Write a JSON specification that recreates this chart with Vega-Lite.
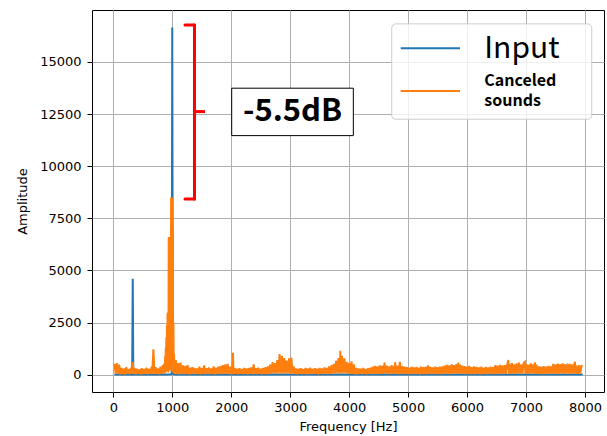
{
  "$schema": "https://vega.github.io/schema/vega-lite/v6.json",
  "autosize": {"type": "none"},
  "padding": {"left": 92, "top": 10, "right": 3, "bottom": 44},
  "width": 512,
  "height": 382,
  "config": {
    "font": "DejaVu Sans",
    "view": {"stroke": "#000000", "strokeWidth": 1},
    "axis": {
      "labelFont": "DejaVu Sans", "labelFontSize": 13, "labelColor": "#000000",
      "titleFont": "DejaVu Sans", "titleFontSize": 13, "titleFontWeight": "normal", "titleColor": "#000000",
      "tickColor": "#000000", "tickSize": 5, "tickWidth": 1, "domain": false,
      "grid": true, "gridColor": "#b0b0b0", "gridWidth": 1
    }
  },
  "datasets": {
    "input": [
      {"f":20,"a":10},{"f":100,"a":5},{"f":200,"a":10},{"f":300,"a":5},{"f":320,"a":10},{"f":330,"a":4600},{"f":340,"a":10},
      {"f":400,"a":5},{"f":500,"a":10},{"f":600,"a":5},{"f":700,"a":10},{"f":800,"a":5},{"f":900,"a":10},{"f":980,"a":20},
      {"f":990,"a":60},{"f":1000,"a":16650},{"f":1010,"a":60},{"f":1020,"a":20},{"f":1100,"a":5},{"f":1300,"a":10},
      {"f":1500,"a":5},{"f":1700,"a":10},{"f":1900,"a":5},{"f":2100,"a":10},{"f":2300,"a":5},{"f":2500,"a":10},
      {"f":2700,"a":5},{"f":2900,"a":15},{"f":3100,"a":5},{"f":3300,"a":10},{"f":3500,"a":5},{"f":3700,"a":10},
      {"f":3900,"a":15},{"f":4100,"a":5},{"f":4300,"a":10},{"f":4500,"a":5},{"f":4700,"a":10},{"f":4900,"a":5},
      {"f":5100,"a":10},{"f":5300,"a":5},{"f":5500,"a":10},{"f":5700,"a":5},{"f":5900,"a":10},{"f":6100,"a":5},
      {"f":6300,"a":10},{"f":6500,"a":5},{"f":6700,"a":10},{"f":6900,"a":5},{"f":7100,"a":10},{"f":7300,"a":5},
      {"f":7500,"a":10},{"f":7700,"a":5},{"f":7960,"a":10}
    ],
    "canceled": [
      {"f":20,"a":520},{"f":40,"a":50},{"f":60,"a":560},{"f":80,"a":40},{"f":100,"a":480},{"f":120,"a":20},{"f":140,"a":330},
      {"f":160,"a":30},{"f":180,"a":300},{"f":200,"a":10},{"f":220,"a":360},{"f":240,"a":40},{"f":260,"a":280},{"f":280,"a":30},
      {"f":300,"a":340},{"f":315,"a":50},{"f":330,"a":620},{"f":345,"a":40},{"f":360,"a":330},{"f":380,"a":20},{"f":400,"a":290},
      {"f":420,"a":40},{"f":440,"a":260},{"f":460,"a":20},{"f":480,"a":310},{"f":500,"a":30},{"f":520,"a":270},{"f":540,"a":50},
      {"f":560,"a":340},{"f":580,"a":20},{"f":600,"a":290},{"f":620,"a":40},{"f":640,"a":250},{"f":660,"a":30},{"f":680,"a":1220},
      {"f":700,"a":30},{"f":720,"a":360},{"f":740,"a":50},{"f":760,"a":300},{"f":780,"a":20},{"f":800,"a":380},{"f":820,"a":40},
      {"f":840,"a":460},{"f":850,"a":60},{"f":860,"a":520},{"f":870,"a":60},{"f":880,"a":900},{"f":885,"a":100},{"f":890,"a":1300},
      {"f":895,"a":150},{"f":900,"a":1800},{"f":905,"a":200},{"f":910,"a":2400},{"f":915,"a":150},{"f":920,"a":2950},{"f":925,"a":200},
      {"f":930,"a":3000},{"f":935,"a":100},{"f":940,"a":6600},{"f":945,"a":300},{"f":950,"a":6500},{"f":955,"a":200},{"f":960,"a":6600},
      {"f":965,"a":400},{"f":970,"a":6600},{"f":975,"a":200},{"f":980,"a":8500},{"f":985,"a":500},{"f":990,"a":8500},{"f":995,"a":300},
      {"f":1000,"a":8500},{"f":1005,"a":100},{"f":1010,"a":7000},{"f":1015,"a":200},{"f":1020,"a":2500},{"f":1025,"a":80},
      {"f":1030,"a":1000},{"f":1040,"a":40},{"f":1060,"a":700},{"f":1080,"a":40},{"f":1100,"a":560},{"f":1120,"a":20},{"f":1140,"a":580},
      {"f":1160,"a":50},{"f":1180,"a":450},{"f":1200,"a":30},{"f":1220,"a":420},{"f":1240,"a":40},{"f":1260,"a":460},{"f":1280,"a":20},
      {"f":1300,"a":340},{"f":1320,"a":30},{"f":1340,"a":360},{"f":1360,"a":50},{"f":1380,"a":320},{"f":1400,"a":30},{"f":1420,"a":300},
      {"f":1440,"a":40},{"f":1460,"a":380},{"f":1480,"a":20},{"f":1500,"a":330},{"f":1520,"a":40},{"f":1540,"a":450},{"f":1560,"a":30},
      {"f":1580,"a":310},{"f":1600,"a":50},{"f":1620,"a":350},{"f":1640,"a":30},{"f":1660,"a":300},{"f":1680,"a":40},{"f":1700,"a":400},
      {"f":1720,"a":20},{"f":1740,"a":340},{"f":1760,"a":50},{"f":1780,"a":380},{"f":1800,"a":30},{"f":1820,"a":420},{"f":1840,"a":40},
      {"f":1860,"a":460},{"f":1880,"a":50},{"f":1900,"a":500},{"f":1920,"a":40},{"f":1940,"a":520},{"f":1960,"a":50},{"f":1980,"a":380},
      {"f":2000,"a":20},{"f":2010,"a":400},{"f":2020,"a":30},{"f":2030,"a":1050},{"f":2040,"a":30},{"f":2060,"a":320},{"f":2080,"a":40},
      {"f":2100,"a":290},{"f":2120,"a":20},{"f":2140,"a":310},{"f":2160,"a":40},{"f":2180,"a":280},{"f":2200,"a":30},{"f":2220,"a":320},
      {"f":2240,"a":40},{"f":2260,"a":300},{"f":2280,"a":20},{"f":2300,"a":330},{"f":2320,"a":40},{"f":2340,"a":350},{"f":2360,"a":30},
      {"f":2380,"a":500},{"f":2400,"a":50},{"f":2420,"a":310},{"f":2440,"a":30},{"f":2460,"a":340},{"f":2480,"a":40},{"f":2500,"a":290},
      {"f":2520,"a":20},{"f":2540,"a":330},{"f":2560,"a":40},{"f":2580,"a":360},{"f":2600,"a":30},{"f":2620,"a":400},{"f":2640,"a":50},
      {"f":2660,"a":480},{"f":2680,"a":40},{"f":2700,"a":600},{"f":2720,"a":60},{"f":2740,"a":560},{"f":2760,"a":60},{"f":2780,"a":700},
      {"f":2800,"a":60},{"f":2820,"a":990},{"f":2840,"a":60},{"f":2860,"a":900},{"f":2880,"a":60},{"f":2900,"a":800},{"f":2920,"a":50},
      {"f":2940,"a":680},{"f":2960,"a":60},{"f":2980,"a":780},{"f":3000,"a":40},{"f":3020,"a":820},{"f":3040,"a":60},{"f":3060,"a":400},
      {"f":3080,"a":30},{"f":3100,"a":300},{"f":3120,"a":20},{"f":3140,"a":290},{"f":3160,"a":40},{"f":3180,"a":310},{"f":3200,"a":30},
      {"f":3220,"a":270},{"f":3240,"a":40},{"f":3260,"a":320},{"f":3280,"a":20},{"f":3300,"a":300},{"f":3320,"a":30},{"f":3340,"a":340},
      {"f":3360,"a":50},{"f":3380,"a":280},{"f":3400,"a":30},{"f":3420,"a":310},{"f":3440,"a":40},{"f":3460,"a":290},{"f":3480,"a":20},
      {"f":3500,"a":330},{"f":3520,"a":40},{"f":3540,"a":300},{"f":3560,"a":30},{"f":3580,"a":350},{"f":3600,"a":50},{"f":3620,"a":320},
      {"f":3640,"a":30},{"f":3660,"a":400},{"f":3680,"a":40},{"f":3700,"a":460},{"f":3720,"a":60},{"f":3740,"a":520},{"f":3760,"a":60},
      {"f":3780,"a":680},{"f":3800,"a":60},{"f":3820,"a":800},{"f":3840,"a":60},{"f":3850,"a":1150},{"f":3860,"a":60},{"f":3880,"a":900},
      {"f":3900,"a":60},{"f":3920,"a":780},{"f":3940,"a":60},{"f":3960,"a":620},{"f":3980,"a":50},{"f":4000,"a":560},{"f":4020,"a":40},
      {"f":4040,"a":640},{"f":4060,"a":40},{"f":4080,"a":500},{"f":4100,"a":30},{"f":4120,"a":330},{"f":4140,"a":20},{"f":4160,"a":300},
      {"f":4180,"a":40},{"f":4200,"a":290},{"f":4220,"a":30},{"f":4240,"a":320},{"f":4260,"a":40},{"f":4280,"a":280},{"f":4300,"a":20},
      {"f":4320,"a":310},{"f":4340,"a":40},{"f":4360,"a":340},{"f":4380,"a":30},{"f":4400,"a":380},{"f":4420,"a":50},{"f":4440,"a":420},
      {"f":4460,"a":30},{"f":4480,"a":400},{"f":4500,"a":50},{"f":4520,"a":450},{"f":4540,"a":40},{"f":4560,"a":430},{"f":4580,"a":40},
      {"f":4600,"a":580},{"f":4620,"a":60},{"f":4640,"a":440},{"f":4660,"a":30},{"f":4680,"a":400},{"f":4700,"a":50},{"f":4720,"a":460},
      {"f":4740,"a":40},{"f":4760,"a":420},{"f":4770,"a":50},{"f":4780,"a":600},{"f":4800,"a":50},{"f":4820,"a":440},{"f":4840,"a":30},
      {"f":4860,"a":620},{"f":4880,"a":50},{"f":4900,"a":420},{"f":4920,"a":40},{"f":4940,"a":380},{"f":4960,"a":30},{"f":4980,"a":360},
      {"f":5000,"a":40},{"f":5020,"a":340},{"f":5040,"a":30},{"f":5060,"a":390},{"f":5080,"a":50},{"f":5100,"a":350},{"f":5120,"a":30},
      {"f":5140,"a":370},{"f":5160,"a":40},{"f":5180,"a":340},{"f":5200,"a":20},{"f":5220,"a":380},{"f":5240,"a":40},{"f":5260,"a":360},
      {"f":5280,"a":50},{"f":5300,"a":390},{"f":5320,"a":30},{"f":5340,"a":450},{"f":5360,"a":40},{"f":5380,"a":370},{"f":5400,"a":30},
      {"f":5420,"a":350},{"f":5440,"a":50},{"f":5460,"a":390},{"f":5480,"a":30},{"f":5500,"a":360},{"f":5520,"a":40},{"f":5540,"a":380},
      {"f":5560,"a":30},{"f":5580,"a":400},{"f":5600,"a":50},{"f":5620,"a":440},{"f":5640,"a":40},{"f":5660,"a":470},{"f":5680,"a":50},
      {"f":5700,"a":450},{"f":5720,"a":30},{"f":5740,"a":490},{"f":5760,"a":50},{"f":5780,"a":460},{"f":5800,"a":60},{"f":5820,"a":510},
      {"f":5840,"a":40},{"f":5850,"a":580},{"f":5860,"a":50},{"f":5880,"a":480},{"f":5900,"a":40},{"f":5920,"a":440},{"f":5940,"a":50},
      {"f":5960,"a":410},{"f":5980,"a":30},{"f":6000,"a":380},{"f":6020,"a":40},{"f":6040,"a":420},{"f":6060,"a":30},{"f":6080,"a":360},
      {"f":6100,"a":50},{"f":6120,"a":400},{"f":6140,"a":30},{"f":6160,"a":370},{"f":6180,"a":40},{"f":6200,"a":350},{"f":6220,"a":20},
      {"f":6240,"a":380},{"f":6260,"a":40},{"f":6280,"a":340},{"f":6300,"a":50},{"f":6320,"a":370},{"f":6340,"a":30},{"f":6360,"a":350},
      {"f":6380,"a":40},{"f":6400,"a":380},{"f":6420,"a":30},{"f":6440,"a":360},{"f":6460,"a":50},{"f":6480,"a":460},{"f":6500,"a":40},
      {"f":6520,"a":430},{"f":6540,"a":50},{"f":6560,"a":470},{"f":6580,"a":30},{"f":6600,"a":450},{"f":6620,"a":50},{"f":6640,"a":460},
      {"f":6660,"a":40},{"f":6680,"a":480},{"f":6700,"a":700},{"f":6710,"a":60},{"f":6720,"a":520},{"f":6740,"a":40},{"f":6760,"a":560},
      {"f":6780,"a":50},{"f":6800,"a":500},{"f":6820,"a":40},{"f":6840,"a":540},{"f":6860,"a":60},{"f":6880,"a":580},{"f":6900,"a":50},
      {"f":6920,"a":500},{"f":6940,"a":60},{"f":6960,"a":560},{"f":6980,"a":620},{"f":6990,"a":40},{"f":7000,"a":520},{"f":7020,"a":50},
      {"f":7040,"a":480},{"f":7060,"a":40},{"f":7080,"a":540},{"f":7100,"a":60},{"f":7120,"a":500},{"f":7140,"a":50},{"f":7150,"a":600},
      {"f":7160,"a":40},{"f":7180,"a":480},{"f":7200,"a":40},{"f":7220,"a":400},{"f":7240,"a":50},{"f":7260,"a":380},{"f":7280,"a":30},
      {"f":7300,"a":410},{"f":7320,"a":50},{"f":7340,"a":390},{"f":7360,"a":30},{"f":7380,"a":420},{"f":7400,"a":40},{"f":7420,"a":400},
      {"f":7440,"a":60},{"f":7460,"a":520},{"f":7480,"a":40},{"f":7500,"a":500},{"f":7520,"a":50},{"f":7540,"a":530},{"f":7560,"a":40},
      {"f":7580,"a":510},{"f":7600,"a":60},{"f":7620,"a":540},{"f":7640,"a":40},{"f":7660,"a":500},{"f":7680,"a":50},{"f":7700,"a":530},
      {"f":7720,"a":50},{"f":7740,"a":520},{"f":7760,"a":60},{"f":7780,"a":500},{"f":7800,"a":40},{"f":7820,"a":540},{"f":7830,"a":620},
      {"f":7840,"a":50},{"f":7860,"a":440},{"f":7880,"a":40},{"f":7900,"a":460},{"f":7920,"a":60},{"f":7940,"a":420},{"f":7960,"a":400}
    ]
  },
  "layer": [
    {
      "data": {"name": "input"},
      "mark": {"type": "line", "strokeWidth": 2, "clip": true},
      "encoding": {
        "x": {"field": "f", "type": "quantitative", "title": "Frequency [Hz]",
              "scale": {"domain": [-361, 8322], "nice": false, "zero": false},
              "axis": {"values": [0,1000,2000,3000,4000,5000,6000,7000,8000], "format": "d", "labelPadding": 4, "titlePadding": 6}},
        "y": {"field": "a", "type": "quantitative", "title": "Amplitude",
              "scale": {"domain": [-830, 17494], "nice": false, "zero": false},
              "axis": {"values": [0,2500,5000,7500,10000,12500,15000], "format": "d", "labelPadding": 6, "titlePadding": 10}},
        "color": {"datum": "Input", "type": "nominal",
                  "scale": {"domain": ["Input", "Canceled sounds"], "range": ["#1f77b4", "#ff7f0e"]}, "legend": null}
      }
    },
    {
      "data": {"name": "canceled"},
      "mark": {"type": "line", "strokeWidth": 2, "clip": true},
      "encoding": {
        "x": {"field": "f", "type": "quantitative"},
        "y": {"field": "a", "type": "quantitative"},
        "color": {"datum": "Canceled sounds", "type": "nominal"}
      }
    },
    {
      "data": {"values": [{}]},
      "mark": {"type": "rule", "color": "#ff0000", "strokeWidth": 3, "strokeCap": "round"},
      "encoding": {"x": {"datum": 1377}, "y": {"datum": 16780}, "y2": {"datum": 8431}}
    },
    {
      "data": {"values": [{}]},
      "mark": {"type": "rule", "color": "#ff0000", "strokeWidth": 3, "strokeCap": "round"},
      "encoding": {"x": {"datum": 1216}, "x2": {"datum": 1377}, "y": {"datum": 16780}}
    },
    {
      "data": {"values": [{}]},
      "mark": {"type": "rule", "color": "#ff0000", "strokeWidth": 3, "strokeCap": "round"},
      "encoding": {"x": {"datum": 1216}, "x2": {"datum": 1377}, "y": {"datum": 8431}}
    },
    {
      "data": {"values": [{}]},
      "mark": {"type": "rule", "color": "#ff0000", "strokeWidth": 3},
      "encoding": {"x": {"datum": 1377}, "x2": {"datum": 1555}, "y": {"datum": 12621}}
    },
    {
      "data": {"values": [{}]},
      "mark": {"type": "rect", "fill": "#ffffff", "stroke": "#000000", "strokeWidth": 1},
      "encoding": {"x": {"datum": 2008}, "x2": {"datum": 4071}, "y": {"datum": 13743}, "y2": {"datum": 11468}}
    },
    {
      "data": {"values": [{}]},
      "mark": {"type": "text", "text": "-5.5dB", "font": "Noto Sans CJK JP", "fontWeight": "bold", "fontSize": 31, "align": "center", "baseline": "middle", "color": "#000000"},
      "encoding": {"x": {"datum": 3040}, "y": {"datum": 12605}}
    },
    {
      "data": {"values": [{}]},
      "mark": {"type": "rect", "fill": "#ffffff", "fillOpacity": 0.8, "stroke": "#cccccc", "strokeWidth": 1, "cornerRadius": 4},
      "encoding": {"x": {"datum": 4722}, "x2": {"datum": 8114}, "y": {"datum": 16828}, "y2": {"datum": 12255}}
    },
    {
      "data": {"values": [{}]},
      "mark": {"type": "rule", "strokeWidth": 2},
      "encoding": {"x": {"datum": 4874}, "x2": {"datum": 5880}, "y": {"datum": 15662}, "color": {"datum": "Input", "type": "nominal"}}
    },
    {
      "data": {"values": [{}]},
      "mark": {"type": "rule", "strokeWidth": 2},
      "encoding": {"x": {"datum": 4874}, "x2": {"datum": 5880}, "y": {"datum": 13613}, "color": {"datum": "Canceled sounds", "type": "nominal"}}
    },
    {
      "data": {"values": [{}]},
      "mark": {"type": "text", "text": "Input", "font": "Noto Sans CJK JP", "fontSize": 30, "align": "left", "baseline": "alphabetic", "color": "#000000"},
      "encoding": {"x": {"datum": 6292}, "y": {"datum": 15182}}
    },
    {
      "data": {"values": [{}]},
      "mark": {"type": "text", "text": ["Canceled", "sounds"], "lineHeight": 20, "font": "Noto Sans CJK JP", "fontWeight": "bold", "fontSize": 16, "align": "left", "baseline": "alphabetic", "color": "#000000"},
      "encoding": {"x": {"datum": 6292}, "y": {"datum": 13853}}
    }
  ]
}
